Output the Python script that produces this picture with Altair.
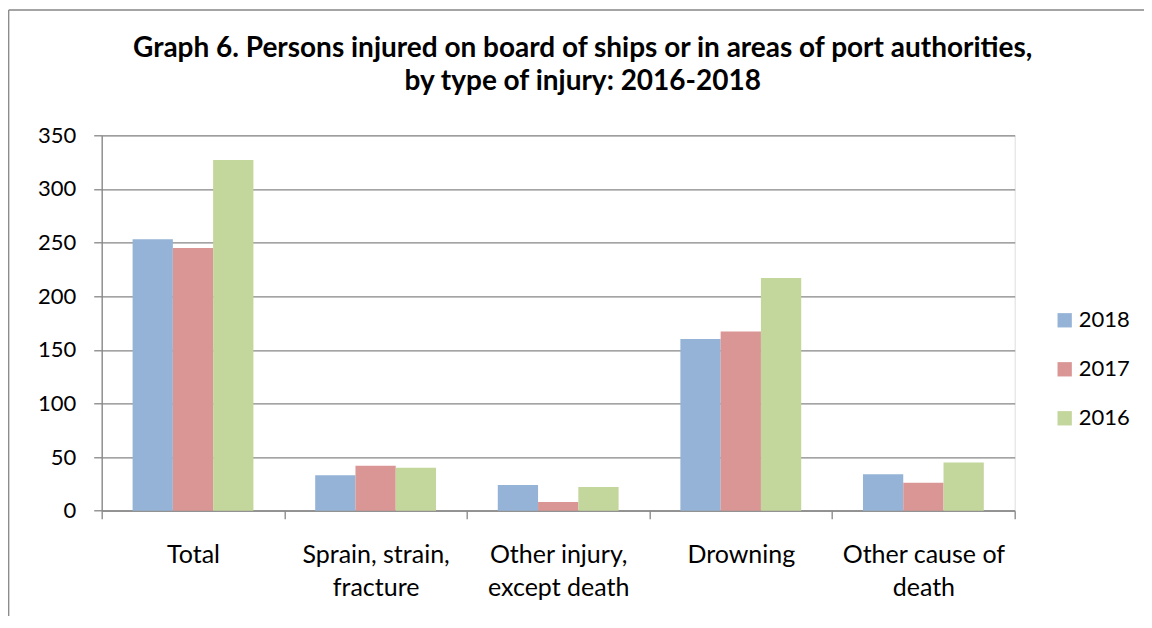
import altair as alt
import pandas as pd

categories = ["Total", "Sprain, strain, fracture", "Other injury, except death",
              "Drowning", "Other cause of death"]
years = ["2018", "2017", "2016"]
v2018 = [253, 33, 24, 160, 34]
v2017 = [245, 42, 8, 167, 26]
v2016 = [327, 40, 22, 217, 45]
colors = ["#95B3D7", "#D99694", "#C3D69B"]
wraps = {
    "Sprain, strain, fracture": ["Sprain, strain,", "fracture"],
    "Other injury, except death": ["Other injury,", "except death"],
    "Other cause of death": ["Other cause of", "death"],
}
title_lines = ["Graph 6. Persons injured on board of ships or in areas of port authorities,",
               "by type of injury: 2016-2018"]

rows = []
for yr, vals in zip(years, [v2018, v2017, v2016]):
    for c, v in zip(categories, vals):
        rows.append({"category": c, "year": yr, "value": v})
df = pd.DataFrame(rows)

label_expr = ""
for k, lines in wraps.items():
    arr = "[" + ",".join("'" + s + "'" for s in lines) + "]"
    label_expr += f"datum.label == '{k}' ? {arr} : "
label_expr += "datum.label"

FONT = "Lato"
GRAY = "#868686"

bars = alt.Chart(df).mark_bar().encode(
    x=alt.X("category:N", sort=categories,
            scale=alt.Scale(paddingInner=0, paddingOuter=0),
            axis=alt.Axis(title=None, labelAngle=0, tickBand="extent",
                          labelExpr=label_expr, labelFont=FONT, labelFontSize=25,
                          labelColor="black", labelLineHeight=33, labelLimit=400,
                          labelPadding=24, domainColor=GRAY, domainWidth=1.3,
                          tickColor=GRAY, tickWidth=1.3, tickSize=8, grid=False)),
    xOffset=alt.XOffset("year:N", sort=years,
                        scale=alt.Scale(paddingOuter=0.767, paddingInner=0)),
    y=alt.Y("value:Q", scale=alt.Scale(domain=[0, 350]),
            axis=alt.Axis(title=None, values=list(range(0, 351, 50)),
                          labelFont=FONT, labelFontSize=22, labelColor="black",
                          labelPadding=18, domainColor=GRAY, domainWidth=1.3,
                          tickColor=GRAY, tickWidth=1.3, tickSize=8,
                          gridColor=GRAY, gridWidth=1.3)),
    color=alt.Color("year:N", sort=years,
                    scale=alt.Scale(domain=years, range=colors),
                    legend=alt.Legend(title=None, orient="none", legendX=952, legendY=174,
                                      symbolType="square", symbolSize=205,
                                      symbolStrokeWidth=0, labelFont=FONT,
                                      labelFontSize=22, labelColor="black",
                                      rowPadding=27, labelOffset=3, padding=0)),
)

frame = pd.DataFrame({"a": [0]})
left_border = alt.Chart(frame).mark_rule(color=GRAY, strokeWidth=1.3).encode(
    x=alt.value(-93), y=alt.value(-125.3), y2=alt.value(500))
top_border = alt.Chart(frame).mark_rule(color=GRAY, strokeWidth=1.3).encode(
    x=alt.value(-93), x2=alt.value(1060), y=alt.value(-125.3))

chart = alt.layer(left_border, top_border, bars).properties(
    width=913, height=375.4,
    autosize=alt.AutoSizeParams(type="none"),
    padding={"left": 93.7, "top": 127.3, "right": 129, "bottom": 105},
    title=alt.Title(text=title_lines, font=FONT, fontSize=28, fontWeight="bold",
                    color="black", anchor="middle", lineHeight=33.3, offset=-87, dx=24.5),
).configure_view(stroke=None).configure(background="white")

chart.save("out.html", embed_options={"renderer": "svg", "actions": False})
